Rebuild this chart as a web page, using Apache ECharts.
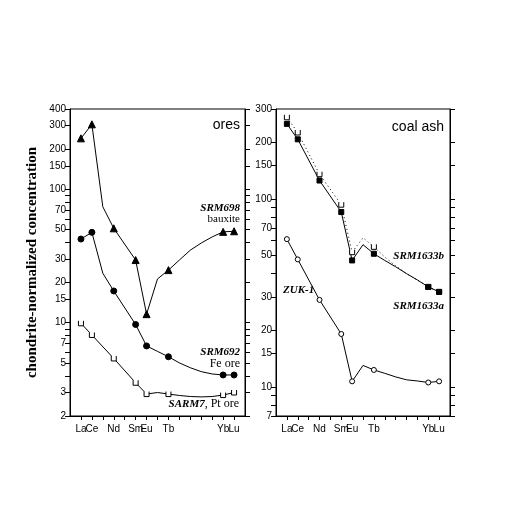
<!DOCTYPE html>
<html>
<head>
  <meta charset="utf-8">
  <title>REE patterns</title>
  <script src="https://cdn.jsdelivr.net/npm/echarts@6/dist/echarts.min.js"></script>
  <style>
    html, body { margin: 0; padding: 0; background: #fff; }
    #chart { width: 524px; height: 510px; }
  </style>
</head>
<body>
  <div id="chart"></div>
  <script>
    // rare earth elements, x position is the atomic number
    var ree = ['La', 'Ce', 'Pr', 'Nd', 'Pm', 'Sm', 'Eu', 'Gd', 'Tb', 'Dy', 'Ho', 'Er', 'Tm', 'Yb', 'Lu'];
    var atomicNumber = [57, 58, 59, 60, 61, 62, 63, 64, 65, 66, 67, 68, 69, 70, 71];
    var labelledRee = ['La', 'Ce', 'Nd', 'Sm', 'Eu', 'Tb', 'Yb', 'Lu'];
    // labels that sit next to the first/last one go on a second axis, so none get dropped
    var innerLabelled = ['Ce', 'Yb'];

    // ores panel
    var srm698 = [241, 307, 74, 51, null, 29.5, 11.6, 21.3, 24.8, 29.5, 35, 39.6, 44, 48, 48.5];
    var srm692 = [42.4, 47.6, 23.5, 17.3, null, 9.7, 6.7, 6.1, 5.56, 5.0, 4.6, 4.3, 4.13, 4.06, 4.06];
    var sarm7 = [9.9, 8.1, null, 5.4, null, 3.55, 2.92, 3.0, 2.92, 2.85, 2.8, 2.78, 2.8, 2.87, 3.0];

    // coal ash panel
    var srm1633b = [250, 207, null, 125, null, 85, 47, 57, 51, 47, 43.5, 40, 37, 34, 32];
    var srm1633a = [271, 225, null, 135, null, 93, 52, 62, 55.5, 49, 44, 40, 37, 34, 32];
    var zuk1 = [61, 47.6, null, 29, null, 19.1, 10.7, 13.0, 12.3, 11.8, 11.3, 10.9, 10.75, 10.55, 10.7];

    var oresTicks = [2, 3, 4, 5, 6, 7, 8, 9, 10, 15, 20, 30, 40, 50, 60, 70, 80, 90, 100, 150, 200, 300, 400];
    var oresLabels = [2, 3, 5, 7, 10, 15, 20, 30, 50, 70, 100, 150, 200, 300, 400];
    var ashTicks = [7, 8, 9, 10, 15, 20, 30, 40, 50, 60, 70, 80, 90, 100, 150, 200, 300];
    var ashLabels = [7, 10, 15, 20, 30, 50, 70, 100, 150, 200, 300];

    var narrow = "'Liberation Sans Narrow', 'Arial Narrow', 'Liberation Sans', sans-serif";
    var serif = "'Liberation Serif', 'Times New Roman', serif";
    var cup = 'path://M0,0 L0,10 L10,10 L10,0';

    var chart = echarts.init(document.getElementById('chart'), null, { renderer: 'canvas' });

    function lg(v) { return Math.log10(v); }

    // build [x, log10(y)] points, markers only on the measured elements
    function toData(values) {
      var out = [];
      for (var i = 0; i < values.length; i++) {
        if (values[i] == null) continue;
        var item = { value: [atomicNumber[i], lg(values[i])] };
        if (labelledRee.indexOf(ree[i]) < 0) item.symbol = 'none';
        out.push(item);
      }
      return out;
    }

    function xAxisFor(gridIndex, names, withLine) {
      return {
        type: 'value', gridIndex: gridIndex, min: 56, max: 72, interval: 1,
        position: 'bottom',
        splitLine: { show: false },
        axisLine: { show: withLine, lineStyle: { color: '#000', width: 1 } },
        axisTick: {
          show: withLine, length: 4, lineStyle: { color: '#000' },
          customValues: atomicNumber
        },
        axisLabel: {
          color: '#000', fontFamily: narrow, fontSize: 10, margin: 8,
          hideOverlap: false, interval: 0, showMinLabel: true, showMaxLabel: true,
          customValues: names.map(function (s) { return atomicNumber[ree.indexOf(s)]; }),
          formatter: function (v) { return ree[atomicNumber.indexOf(Math.round(v))] || ''; }
        }
      };
    }

    function yAxisFor(gridIndex, lo, hi, ticks, labels, position, name) {
      return {
        type: 'value', gridIndex: gridIndex, position: position,
        min: lg(lo), max: lg(hi),
        name: name || '', nameLocation: 'middle', nameGap: 30,
        nameTextStyle: { fontFamily: serif, fontWeight: 'bold', fontSize: 15, color: '#000' },
        splitLine: { show: false },
        axisLine: { show: true, lineStyle: { color: '#000', width: 1 } },
        axisTick: {
          show: true, length: 5, lineStyle: { color: '#000' },
          customValues: ticks.map(lg)
        },
        axisLabel: {
          show: position === 'left', color: '#000', fontFamily: narrow, fontSize: 10, margin: 4,
          hideOverlap: false, showMinLabel: true, showMaxLabel: true,
          customValues: labels.map(lg),
          formatter: function (v) { return String(Math.round(Math.pow(10, v))); }
        }
      };
    }

    function lineSeries(values, xi, yi, symbol, size, filled, dotted) {
      return {
        type: 'line', xAxisIndex: xi, yAxisIndex: yi,
        data: toData(values),
        symbol: symbol, symbolSize: size, showSymbol: true,
        lineStyle: { color: '#000', width: 1, type: dotted ? [1, 3] : 'solid' },
        itemStyle: filled
          ? { color: '#000', borderColor: '#000', borderWidth: 1 }
          : { color: '#fff', borderColor: '#000', borderWidth: 1 },
        emphasis: { disabled: true },
        animation: false
      };
    }

    function label(text, x, y, align, rich) {
      return {
        type: 'text', x: x, y: y,
        style: {
          text: text, align: align, verticalAlign: 'middle',
          fontFamily: serif, fontSize: 11, fill: '#000',
          rich: rich
        }
      };
    }

    var outerLabelled = labelledRee.filter(function (s) { return innerLabelled.indexOf(s) < 0; });
    var boldItalic = { fontFamily: serif, fontWeight: 'bold', fontStyle: 'italic', fontSize: 11, fill: '#000' };
    var plain = { fontFamily: serif, fontSize: 12, fill: '#000' };

    option = {
      backgroundColor: '#fff',
      animation: false,
      grid: [
        { left: 70, top: 109, width: 175, height: 307, show: true, borderColor: '#000', borderWidth: 1 },
        { left: 276, top: 109, width: 174, height: 307, show: true, borderColor: '#000', borderWidth: 1 }
      ],
      xAxis: [
        xAxisFor(0, outerLabelled, true),
        xAxisFor(1, outerLabelled, true),
        xAxisFor(0, innerLabelled, false),
        xAxisFor(1, innerLabelled, false)
      ],
      yAxis: [
        yAxisFor(0, 2, 400, oresTicks, oresLabels, 'left', 'chondrite-normalized concentration'),
        yAxisFor(0, 2, 400, oresTicks, oresLabels, 'right'),
        yAxisFor(1, 7, 300, ashTicks, ashLabels, 'left'),
        yAxisFor(1, 7, 300, ashTicks, ashLabels, 'right')
      ],
      series: [
        lineSeries(srm698, 0, 0, 'triangle', 7, true),
        lineSeries(srm692, 0, 0, 'circle', 6, true),
        lineSeries(sarm7, 0, 0, cup, 5, false),
        lineSeries(srm1633a, 1, 2, cup, 5, false, true),
        lineSeries(srm1633b, 1, 2, 'rect', 5, true),
        lineSeries(zuk1, 1, 2, 'circle', 5, false)
      ],
      graphic: [
        { type: 'text', x: 240, y: 125, style: { text: 'ores', align: 'right', verticalAlign: 'middle', fontFamily: "'Liberation Sans', Arial, sans-serif", fontSize: 14, fill: '#000' } },
        { type: 'text', x: 444, y: 127, style: { text: 'coal ash', align: 'right', verticalAlign: 'middle', fontFamily: "'Liberation Sans', Arial, sans-serif", fontSize: 14, fill: '#000' } },
        label('{b|SRM698}', 240, 208, 'right', { b: boldItalic }),
        label('{p|bauxite}', 240, 219, 'right', { p: { fontFamily: serif, fontSize: 11, fill: '#000' } }),
        label('{b|SRM692}', 240, 352, 'right', { b: boldItalic }),
        label('{p|Fe ore}', 240, 364, 'right', { p: plain }),
        label('{b|SARM7}{p|, Pt ore}', 239, 404, 'right', { b: boldItalic, p: plain }),
        label('{b|ZUK-1}', 283, 290, 'left', { b: boldItalic }),
        label('{b|SRM1633b}', 444, 256, 'right', { b: boldItalic }),
        label('{b|SRM1633a}', 444, 306, 'right', { b: boldItalic })
      ]
    };

    chart.setOption(option);
  </script>
</body>
</html>
